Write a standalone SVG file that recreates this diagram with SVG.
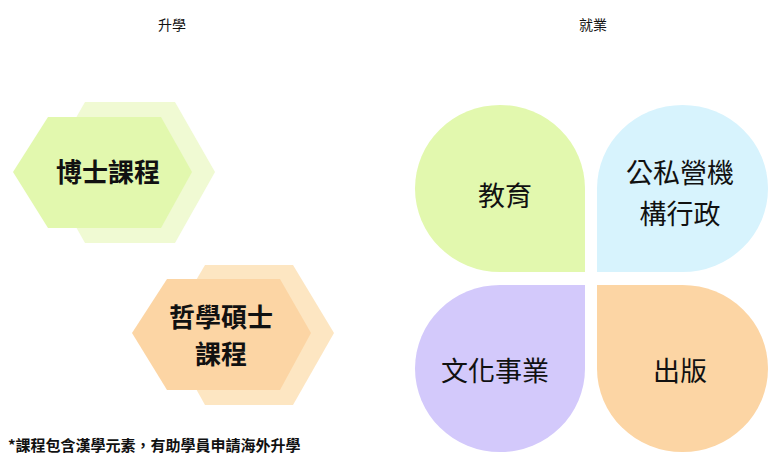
<svg xmlns="http://www.w3.org/2000/svg" width="781" height="469" viewBox="0 0 781 469">
<style>
text{font-family:"Noto Sans CJK TC","Noto Sans CJK SC",sans-serif;fill:#111}
.h{font-size:14px}
.b{font-size:26px;font-weight:bold}
.q{font-size:27px}
</style>
<rect width="781" height="469" fill="#fff"/>
<text class="h" x="172" y="30" text-anchor="middle">升學</text>
<text class="h" x="593" y="30" text-anchor="middle">就業</text>
<g id="phd">
<polygon points="85,102 175,102 215,172 175,243 85,243 45,172" fill="#f0fad3"/>
<polygon points="48,117 161,117 192,172 161,228 48,228 13,172" fill="#e2f8ae"/>
<text class="b" x="108" y="182" text-anchor="middle">博士課程</text>
</g>
<g id="mphil">
<polygon points="205,265 293,265 334,333 293,405 205,405 165,333" fill="#fde6c2"/>
<polygon points="167,279 280,279 311,333 280,390 167,390 132,333" fill="#fcd5a4"/>
<text class="b" x="221" y="327" text-anchor="middle">哲學碩士</text>
<text class="b" x="221" y="364" text-anchor="middle">課程</text>
</g>
<g id="edu">
<path d="M585,272 H500 A85,83.5 0 0 1 415,188.5 A85,83.5 0 0 1 500,105 A85,83.5 0 0 1 585,188.5 Z" fill="#e2f8ae"/>
<text class="q" x="505" y="206" text-anchor="middle">教育</text>
</g>
<g id="public">
<path d="M597,272 V188.5 A85.5,83.5 0 0 1 682.5,105 A85.5,83.5 0 0 1 768,188.5 A85.5,83.5 0 0 1 682.5,272 Z" fill="#d7f3fd"/>
<text class="q" x="680" y="183" text-anchor="middle">公私營機</text>
<text class="q" x="680" y="224" text-anchor="middle">構行政</text>
</g>
<g id="culture">
<path d="M585,285 V368.5 A85,83.5 0 0 1 500,452 A85,83.5 0 0 1 415,368.5 A85,83.5 0 0 1 500,285 Z" fill="#d3c9fb"/>
<text class="q" x="495" y="381" text-anchor="middle">文化事業</text>
</g>
<g id="publish">
<path d="M597,285 H682.5 A85.5,83.5 0 0 1 768,368.5 A85.5,83.5 0 0 1 682.5,452 A85.5,83.5 0 0 1 597,368.5 Z" fill="#fcd5a4"/>
<text class="q" x="680" y="381" text-anchor="middle">出版</text>
</g>
<g id="connectors"/>
<text x="8" y="451" style="font-size:15px;font-weight:bold">*課程包含漢學元素，有助學員申請海外升學</text>
</svg>
